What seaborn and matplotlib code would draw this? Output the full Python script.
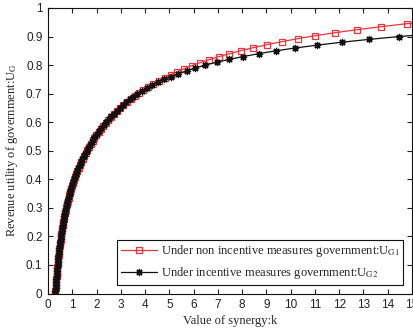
import matplotlib
matplotlib.use("Agg")
import matplotlib.pyplot as plt
import seaborn as sns
import pandas as pd
from matplotlib.ticker import FormatStrFormatter

# ---- data ----
k_red = [0.3000, 0.3087, 0.3176, 0.3269, 0.3365, 0.3465, 0.3568, 0.3674, 0.3785, 0.3900,
         0.4019, 0.4143, 0.4272, 0.4406, 0.4546, 0.4690, 0.4841, 0.4997, 0.5160, 0.5329,
         0.5509, 0.5697, 0.5894, 0.6099, 0.6314, 0.6538, 0.6772, 0.7016, 0.7272, 0.7542,
         0.7830, 0.8132, 0.8448, 0.8780, 0.9128, 0.9494, 0.9878, 1.0282, 1.0706, 1.1143,
         1.1600, 1.2081, 1.2585, 1.3115, 1.3672, 1.4257, 1.4873, 1.5520, 1.6190, 1.6878,
         1.7599, 1.8357, 1.9152, 1.9986, 2.0863, 2.1784, 2.2752, 2.3768, 2.4837, 2.5961,
         2.7143, 2.8386, 2.9693, 3.1070, 3.2518, 3.4043, 3.5650, 3.7378, 3.9280, 4.1294,
         4.3426, 4.5685, 4.8078, 5.0614, 5.3303, 5.6154, 5.9179, 6.2645, 6.6412, 7.0439,
         7.4746, 7.9370, 8.4610, 9.0249, 9.6318, 10.2854, 11.0078, 11.8364, 12.7364, 13.7147,
         14.7822, 15.9568]
u_red = [0.0000, 0.0105, 0.0210, 0.0315, 0.0420, 0.0525, 0.0630, 0.0735, 0.0840, 0.0945,
         0.1050, 0.1155, 0.1260, 0.1365, 0.1470, 0.1575, 0.1680, 0.1785, 0.1890, 0.1995,
         0.2100, 0.2205, 0.2310, 0.2415, 0.2520, 0.2625, 0.2730, 0.2835, 0.2940, 0.3045,
         0.3150, 0.3255, 0.3360, 0.3465, 0.3570, 0.3675, 0.3780, 0.3885, 0.3990, 0.4095,
         0.4200, 0.4305, 0.4410, 0.4515, 0.4620, 0.4725, 0.4830, 0.4935, 0.5040, 0.5145,
         0.5250, 0.5355, 0.5460, 0.5565, 0.5670, 0.5775, 0.5880, 0.5985, 0.6090, 0.6195,
         0.6300, 0.6405, 0.6510, 0.6615, 0.6720, 0.6825, 0.6930, 0.7035, 0.7140, 0.7245,
         0.7350, 0.7455, 0.7560, 0.7665, 0.7770, 0.7875, 0.7980, 0.8085, 0.8190, 0.8295,
         0.8400, 0.8505, 0.8610, 0.8715, 0.8820, 0.8925, 0.9030, 0.9135, 0.9240, 0.9345,
         0.9450, 0.9555]

k_black = [0.3000, 0.3082, 0.3167, 0.3255, 0.3346, 0.3440, 0.3538, 0.3638, 0.3742, 0.3850,
           0.3961, 0.4078, 0.4198, 0.4323, 0.4452, 0.4587, 0.4726, 0.4870, 0.5020, 0.5175,
           0.5337, 0.5509, 0.5688, 0.5875, 0.6069, 0.6272, 0.6483, 0.6704, 0.6934, 0.7173,
           0.7423, 0.7691, 0.7972, 0.8265, 0.8572, 0.8894, 0.9231, 0.9583, 0.9953, 1.0341,
           1.0747, 1.1164, 1.1600, 1.2057, 1.2536, 1.3038, 1.3564, 1.4116, 1.4694, 1.5301,
           1.5937, 1.6579, 1.7251, 1.7955, 1.8693, 1.9464, 2.0273, 2.1120, 2.2008, 2.2942,
           2.3918, 2.4942, 2.6016, 2.7143, 2.8325, 2.9566, 3.0869, 3.2237, 3.3673, 3.5182,
           3.6788, 3.8648, 4.0660, 4.2851, 4.5233, 4.7827, 5.0653, 5.3735, 5.7098, 6.0771,
           6.4790, 6.9528, 7.4739, 8.0487, 8.6828, 9.3836, 10.1946, 11.0951, 12.0987, 13.2173,
           14.4656, 15.9507]
u_black = [0.00, 0.01, 0.02, 0.03, 0.04, 0.05, 0.06, 0.07, 0.08, 0.09,
           0.10, 0.11, 0.12, 0.13, 0.14, 0.15, 0.16, 0.17, 0.18, 0.19,
           0.20, 0.21, 0.22, 0.23, 0.24, 0.25, 0.26, 0.27, 0.28, 0.29,
           0.30, 0.31, 0.32, 0.33, 0.34, 0.35, 0.36, 0.37, 0.38, 0.39,
           0.40, 0.41, 0.42, 0.43, 0.44, 0.45, 0.46, 0.47, 0.48, 0.49,
           0.50, 0.51, 0.52, 0.53, 0.54, 0.55, 0.56, 0.57, 0.58, 0.59,
           0.60, 0.61, 0.62, 0.63, 0.64, 0.65, 0.66, 0.67, 0.68, 0.69,
           0.70, 0.71, 0.72, 0.73, 0.74, 0.75, 0.76, 0.77, 0.78, 0.79,
           0.80, 0.81, 0.82, 0.83, 0.84, 0.85, 0.86, 0.87, 0.88, 0.89,
           0.90, 0.91]

label_red = r"Under non incentive measures government:U$_{\mathrm{G1}}$"
label_black = r"Under incentive measures government:U$_{\mathrm{G2}}$"
x_ticks = list(range(0, 16))
y_ticks = [0, 0.1, 0.2, 0.3, 0.4, 0.5, 0.6, 0.7, 0.8, 0.9, 1.0]
x_label = "Value of synergy:k"
y_label = r"Revenue utility of government:U$_{\mathrm{G}}$"

# ---- style ----
sns.set_style("ticks")
plt.rcParams["font.family"] = ["Liberation Sans", "DejaVu Sans"]
plt.rcParams["mathtext.fontset"] = "stix"
plt.rcParams["xtick.direction"] = "in"
plt.rcParams["ytick.direction"] = "in"
plt.rcParams["xtick.top"] = True
plt.rcParams["ytick.right"] = True

fig = plt.figure(figsize=(4.14, 3.31), dpi=100)
ax = fig.add_axes([48 / 414, 1 - 293.5 / 331, 364 / 414, 285.5 / 331])

df_r = pd.DataFrame({"k": k_red, "U": u_red})
df_b = pd.DataFrame({"k": k_black, "U": u_black})

red = "#e8343c"
sns.lineplot(data=df_r, x="k", y="U", ax=ax, sort=False, estimator=None,
             color=red, linewidth=0.9, marker="s", markersize=4.6,
             markerfacecolor="none", markeredgecolor=red, markeredgewidth=0.9,
             label=label_red)
sns.lineplot(data=df_b, x="k", y="U", ax=ax, sort=False, estimator=None,
             color="#111111", linewidth=0.9, marker=(8, 2, 0), markersize=5.2,
             markeredgecolor="#111111", markeredgewidth=0.9,
             label=label_black)

ax.set_xlim(0, 15)
ax.set_ylim(0, 1)
ax.set_xticks(x_ticks)
ax.set_yticks(y_ticks)
ax.yaxis.set_major_formatter(FormatStrFormatter("%g"))
ax.tick_params(axis="both", labelsize=8.5, length=3.5, width=0.8,
               colors="#222222", pad=4)
for s in ax.spines.values():
    s.set_visible(True)
    s.set_linewidth(0.8)
    s.set_color("#111111")

ax.set_xlabel(x_label, family="Liberation Serif", fontsize=9, labelpad=3)
ax.set_ylabel(y_label, family="Liberation Serif", fontsize=9, labelpad=4)

leg = ax.legend(loc="lower right", prop={"family": "Liberation Serif", "size": 9},
                frameon=True, fancybox=False, framealpha=1, edgecolor="#111111",
                handlelength=2.9, borderaxespad=0.7, labelspacing=0.45,
                borderpad=0.3, handletextpad=0.3)
leg.get_frame().set_linewidth(0.8)

fig.savefig("out.png", dpi=100)
